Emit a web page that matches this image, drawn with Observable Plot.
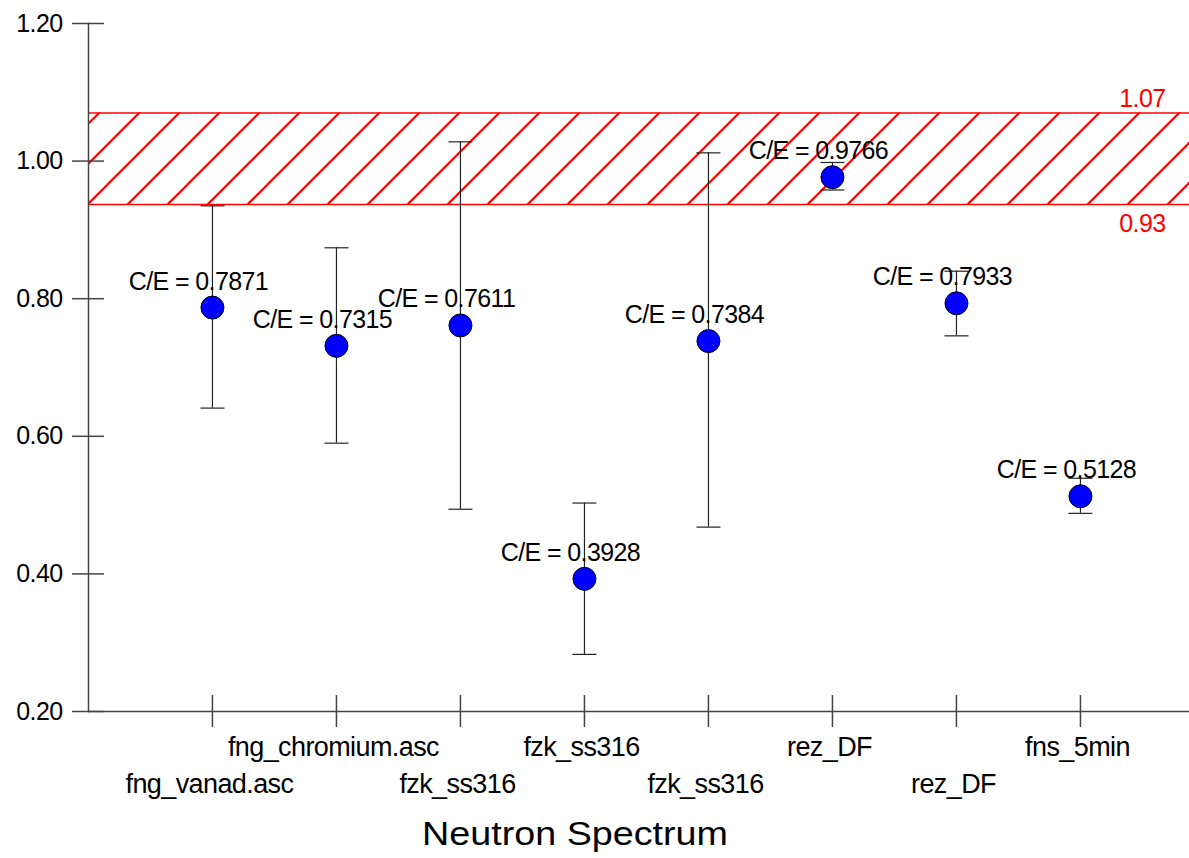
<!DOCTYPE html>
<html>
<head>
<meta charset="utf-8">
<script src="https://cdn.jsdelivr.net/npm/d3@7"></script>
<script src="https://cdn.jsdelivr.net/npm/@observablehq/plot@0.6"></script>
<style>
  html, body { margin: 0; padding: 0; background: #fff; }
  #chart svg { display: block; font-family: "Liberation Sans", Arial, sans-serif; }
  #chart svg text { letter-spacing: -0.6px; }
</style>
</head>
<body>
<div id="chart"></div>
<script>
// ---- data ----
const labels = ["fng_vanad.asc", "fng_chromium.asc", "fzk_ss316", "fzk_ss316", "fzk_ss316", "rez_DF", "rez_DF", "fns_5min"];
const ceValues = [0.7871, 0.7315, 0.7611, 0.3928, 0.7384, 0.9766, 0.7933, 0.5128];
const errLow  = [0.641, 0.590, 0.494, 0.283, 0.468, 0.958, 0.746, 0.488];
const errHigh = [0.935, 0.874, 1.028, 0.503, 1.012, 0.998, 0.840, 0.539];
const bandLow = 0.937;
const bandHigh = 1.07;
const bandLabels = ["1.07", "0.93"];
const yTicks = [0.2, 0.4, 0.6, 0.8, 1.0, 1.2];
const xTitle = "Neutron Spectrum";

const rows = labels.map((name, i) => ({
  i, name, ce: ceValues[i], lo: errLow[i], hi: errHigh[i],
  text: `C/E = ${ceValues[i].toFixed(4)}`
}));
const idx = rows.map(d => d.i);

const W = 1189, H = 858;
const mL = 88, mR = 0, mT = 23, mB = 147;
const frameH = H - mT - mB;
const axisColor = "#444";
const font = "Liberation Sans, Arial, sans-serif";

// horizontal cap symbol for error bars
const capSymbol = { draw(context) { context.moveTo(-12, 0); context.lineTo(12, 0); } };

const plot = Plot.plot({
  width: W,
  height: H,
  marginLeft: mL,
  marginRight: mR,
  marginTop: mT,
  marginBottom: mB,
  style: { fontFamily: font, background: "#fff", overflow: "visible" },
  x: { type: "point", domain: idx, padding: 0.9395, align: 0.532, round: false, axis: null },
  y: { domain: [0.2, 1.2], axis: null },
  marks: [
    // hatched band
    Plot.rect([{ lo: bandLow, hi: bandHigh }], { y1: "lo", y2: "hi", fill: "url(#hatch)" }),
    Plot.ruleY([bandLow, bandHigh], { stroke: "red", strokeWidth: 1.5 }),
    Plot.text([bandLabels[0]], { y: bandHigh, frameAnchor: "right", dx: -24, dy: -6, lineAnchor: "bottom", textAnchor: "end", text: d => d, fill: "red", fontSize: 25 }),
    Plot.text([bandLabels[1]], { y: bandLow, frameAnchor: "right", dx: -24, dy: 28, lineAnchor: "bottom", textAnchor: "end", text: d => d, fill: "red", fontSize: 25 }),
    // axes lines
    Plot.frame({ anchor: "left", stroke: axisColor, strokeWidth: 1.5 }),
    Plot.frame({ anchor: "bottom", stroke: axisColor, strokeWidth: 1.5 }),
    // y ticks crossing the axis
    Plot.tickY(yTicks, { y: d => d, insetLeft: -16, insetRight: (W - mR) - mL - 16, stroke: axisColor, strokeWidth: 1.5 }),
    Plot.axisY({ ticks: yTicks, tickSize: 0, tickPadding: 26, tickFormat: d => d.toFixed(2), fontSize: 25, anchor: "left", fill: "#000" }),
    // x ticks crossing the axis
    Plot.tickX(idx, { x: d => d, insetTop: frameH - 16, insetBottom: -16, stroke: axisColor, strokeWidth: 1.5 }),
    // x labels, staggered
    Plot.text(rows.filter(d => d.i % 2 === 1), { x: "i", frameAnchor: "bottom", dx: -3, dy: 44, lineAnchor: "bottom", text: "name", fontSize: 27, fill: "#000" }),
    Plot.text(rows.filter(d => d.i % 2 === 0), { x: "i", frameAnchor: "bottom", dx: -3, dy: 81, lineAnchor: "bottom", text: "name", fontSize: 27, fill: "#000" }),
    // axis title
    Plot.text([xTitle], { frameAnchor: "bottom", dx: -64, dy: 133, lineAnchor: "bottom", text: d => d, fontSize: 33, fill: "#000" }),
    // error bars
    Plot.ruleX(rows, { x: "i", y1: "lo", y2: "hi", stroke: "#222", strokeWidth: 1.2 }),
    Plot.dot(rows, { x: "i", y: "lo", symbol: capSymbol, stroke: "#222", strokeWidth: 1.2, fill: "none" }),
    Plot.dot(rows, { x: "i", y: "hi", symbol: capSymbol, stroke: "#222", strokeWidth: 1.2, fill: "none" }),
    // points
    Plot.dot(rows, { x: "i", y: "ce", r: 11.5, fill: "#0000ff", stroke: "#000", strokeWidth: 1 }),
    // value labels
    Plot.text(rows, { x: "i", y: "ce", text: "text", dx: -14, dy: -18, lineAnchor: "bottom", fontSize: 25, fill: "#000" })
  ]
});

// hatch pattern definition
const ns = "http://www.w3.org/2000/svg";
const defs = document.createElementNS(ns, "defs");
defs.innerHTML = `<pattern id="hatch" patternUnits="userSpaceOnUse" x="12" y="0" width="40" height="40">
  <path d="M-10,10 L10,-10 M0,40 L40,0 M30,50 L50,30" stroke="red" stroke-width="2.2" fill="none"/>
</pattern>`;
plot.insertBefore(defs, plot.firstChild);

// widen the axis title to the reference's proportions
plot.querySelectorAll("text").forEach(t => {
  if (t.textContent === xTitle) {
    t.setAttribute("textLength", "306");
    t.setAttribute("lengthAdjust", "spacingAndGlyphs");
    t.style.letterSpacing = "0px";
  }
});
document.getElementById("chart").appendChild(plot);
</script>
</body>
</html>
